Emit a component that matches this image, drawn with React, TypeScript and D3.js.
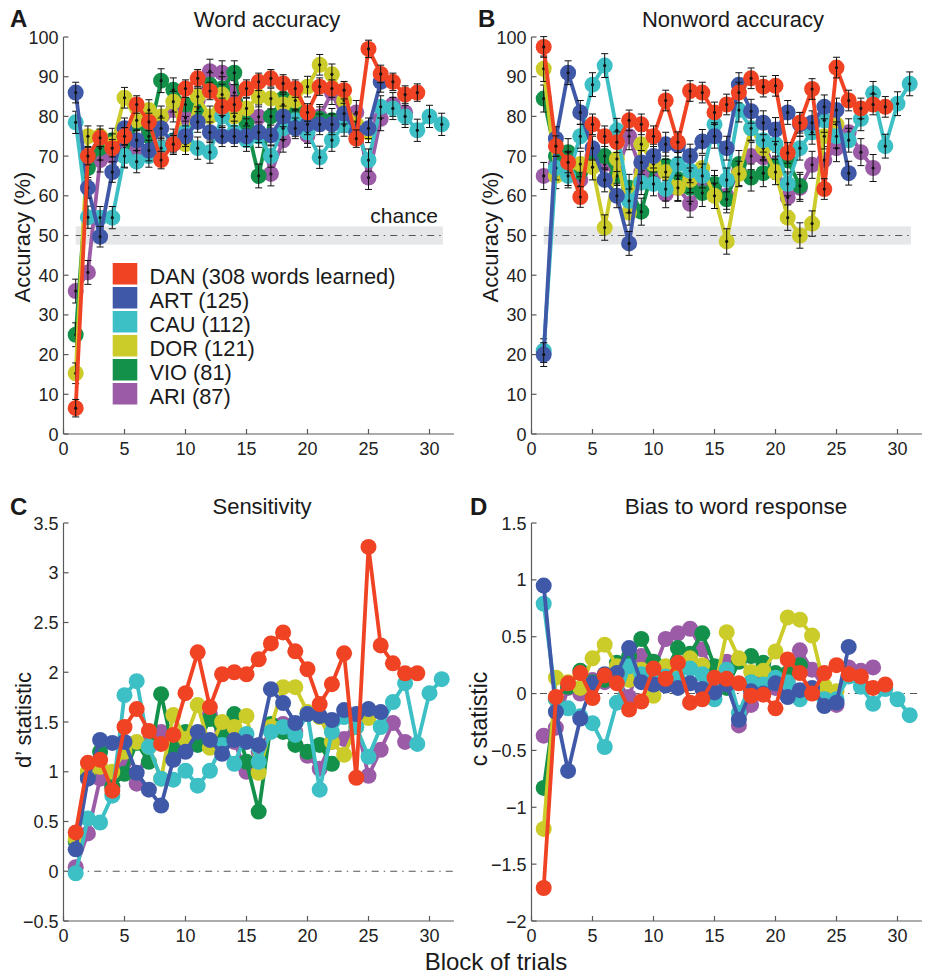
import React from "react";
import * as d3 from "d3";

const FONT = "'Liberation Sans', Arial, Helvetica, sans-serif";

const seriesNames = ["DAN", "ART", "CAU", "DOR", "VIO", "ARI"];
const legendLabels = [
  "DAN (308 words learned)",
  "ART (125)",
  "CAU (112)",
  "DOR (121)",
  "VIO (81)",
  "ARI (87)",
];
const seriesColors = ["#f04323", "#3f59a8", "#3cbfc5", "#cbcb2a", "#13914a", "#9b5ba6"];

// A: word accuracy (%)
const wordDAN = [6.5, 70, 74.6, 72, 75, 83, 78.6, 69, 73, 87, 89.6, 86.4, 82.4, 83, 87, 88.7, 89.6, 88.3, 87, 81, 87.5, 87, 86.6, 74.4, 97, 90.7, 88.7, 85.5, 86];
const wordART = [86, 62, 49.7, 66, 77, 74, 71.4, 77, 73, 75, 78.6, 76, 75, 75, 75, 76, 75.2, 80, 77, 78, 78, 78, 80.7, 76, 77, 88.7];
const wordCAU = [78.5, 54.6, 54.5, 54.5, 70, 68.6, 70, 72, 74, 76, 72, 71, 80, 76, 74, 75, 70, 77, 79, 76, 69.7, 74, 77.8, 76, 69, 82.4, 82, 80, 76.5, 80, 78];
const wordDOR = [15.3, 75, 75, 73, 84.7, 79, 81.6, 80, 83.7, 73, 85, 80, 85.5, 80, 82, 85, 84.5, 83, 84, 87.5, 93, 90.6, 84, 78, 76];
const wordVIO = [25, 67, 72, 74, 70, 78.3, 75, 89, 86.7, 83, 82, 88, 87, 91, 78.2, 65, 80, 84.5, 82, 78, 79.4, 79];
const wordARI = [36, 40.7, 69, 70, 72, 71.4, 76, 77, 81.6, 79.6, 84, 91.4, 91, 86, 80, 79.9, 65.5, 74, 78, 75.2, 80, 86, 79, 81, 64.6, 79.4, 83, 81];
const wordErr = [2.2, 2.6, 2.8, 2.6, 3.0, 3.0];

// B: nonword accuracy (%)
const nonDAN = [97.5, 72.5, 68.4, 59.7, 78, 75, 73.5, 79, 78, 75, 84, 73.5, 86.4, 86, 81, 83, 86, 89.6, 87.5, 87.7, 70.8, 78.4, 86.9, 61.7, 92.3, 84, 82, 83, 82.4];
const nonART = [20, 74.4, 91, 81, 72, 64, 60, 48, 68.4, 70, 73, 72.7, 70, 73.7, 75, 72, 88, 81.3, 78.4, 76.7, 81, 78, 78.4, 82.4, 81.6, 65.7];
const nonCAU = [21, 67, 65, 75, 88, 92.8, 76.5, 58.7, 63.3, 63, 61.7, 68, 66.3, 65, 78, 64, 81.6, 77, 74, 73, 63, 72, 76, 79, 75, 74, 79.4, 85.8, 72.5, 83.2, 88.2];
const nonDOR = [92, 65, 68, 68, 67.2, 52, 69.3, 55.8, 73, 68, 66, 62, 64, 67, 60, 48.5, 65.5, 77, 72, 66, 54.5, 50, 53, 75, 78];
const nonVIO = [84.5, 70, 71, 66, 69, 70, 65, 62, 56, 67.6, 67.6, 64.2, 62, 60.7, 63, 59.1, 68, 64.6, 65.7, 67.6, 68.9, 62.5];
const nonARI = [65, 68, 66, 64, 70, 68, 66, 75, 66, 65, 60.4, 62, 58, 63, 61.7, 60, 66, 70, 69.7, 68, 59.6, 62, 67.8, 69, 72, 76, 71, 67];
const nonErr = [2.6, 3.0, 3.0, 3.2, 3.4, 3.4];

// C: sensitivity d'
const dDAN = [0.39, 1.09, 1.12, 0.81, 1.45, 1.63, 1.41, 1.28, 1.37, 1.79, 2.2, 1.65, 1.98, 2.0, 1.98, 2.13, 2.29, 2.4, 2.21, 2.03, 1.68, 1.88, 2.19, 0.94, 3.26, 2.27, 2.09, 1.99, 1.99];
const dART = [0.22, 0.93, 1.32, 1.29, 1.3, 0.99, 0.82, 0.66, 1.12, 1.2, 1.4, 1.32, 1.18, 1.32, 1.3, 1.27, 1.83, 1.69, 1.49, 1.58, 1.56, 1.52, 1.62, 1.58, 1.63, 1.6];
const dCAU = [-0.02, 0.53, 0.49, 0.76, 1.77, 1.91, 1.25, 0.93, 0.92, 1.01, 0.86, 1.01, 1.27, 1.08, 1.38, 1.1, 1.4, 1.45, 1.37, 1.58, 0.82, 1.4, 1.55, 1.45, 1.15, 1.45, 1.7, 1.89, 1.28, 1.79, 1.93];
const dDOR = [0.33, 1.0, 1.05, 1.0, 1.2, 1.3, 1.25, 0.93, 1.57, 1.33, 1.67, 1.24, 1.5, 1.45, 1.56, 0.99, 1.45, 1.85, 1.85, 1.6, 1.55, 1.3, 1.17, 1.45, 1.54];
const dVIO = [0.3, 0.95, 1.2, 0.85, 0.98, 1.29, 1.1, 1.78, 1.22, 1.4, 1.27, 1.53, 1.35, 1.58, 1.1, 0.6, 1.48, 1.4, 1.27, 1.2, 1.27, 1.08];
const dARI = [0.04, 0.38, 0.93, 0.85, 1.1, 0.88, 1.3, 1.4, 1.25, 1.3, 1.35, 1.58, 1.42, 1.3, 1.0, 1.2, 1.42, 1.48, 1.4, 1.16, 1.03, 1.3, 1.33, 1.5, 0.96, 1.22, 1.49, 1.3];

// D: bias c
const cDAN = [-1.71, -0.03, 0.09, 0.18, -0.04, 0.16, 0.09, -0.14, -0.07, 0.22, 0.13, 0.27, -0.08, -0.05, 0.14, 0.13, 0.09, -0.02, -0.01, -0.13, 0.3, 0.18, 0.0, 0.18, 0.25, 0.17, 0.15, 0.05, 0.08];
const cART = [0.95, -0.16, -0.68, -0.22, 0.09, 0.17, 0.18, 0.4, 0.1, 0.08, 0.07, 0.05, 0.09, 0.04, 0.01, 0.08, -0.23, 0.02, 0.0, 0.09, -0.03, 0.03, 0.05, -0.11, -0.08, 0.41];
const cCAU = [0.79, -0.05, -0.13, -0.2, -0.26, -0.47, -0.08, 0.24, 0.17, 0.15, 0.15, 0.13, 0.22, 0.17, -0.05, 0.21, -0.17, 0.1, 0.08, 0.14, 0.1, -0.05, 0.02, -0.05, -0.05, 0.15, 0.06, -0.09, 0.04, -0.05, -0.19];
const cDOR = [-1.19, 0.14, 0.1, 0.05, 0.31, 0.43, 0.24, 0.12, 0.21, -0.02, 0.24, 0.24, 0.31, 0.25, 0.03, 0.54, 0.31, 0.19, 0.2, 0.37, 0.67, 0.65, 0.51, 0.07, 0.02];
const cVIO = [-0.83, -0.05, 0.06, 0.2, 0.1, 0.12, 0.27, 0.33, 0.48, 0.28, 0.2, 0.4, 0.35, 0.53, 0.24, 0.05, 0.28, 0.33, 0.27, 0.18, 0.18, 0.25];
const cARI = [-0.37, -0.3, 0.05, 0.0, 0.12, 0.1, 0.12, -0.03, 0.33, 0.2, 0.48, 0.53, 0.57, 0.39, 0.15, 0.28, -0.28, -0.1, 0.1, 0.05, 0.1, 0.38, 0.21, 0.05, -0.1, 0.23, 0.2, 0.23];

const xTicks = [0, 5, 10, 15, 20, 25, 30];
const accTicks = [0, 10, 20, 30, 40, 50, 60, 70, 80, 90, 100];
const dTicks = [-0.5, 0, 0.5, 1, 1.5, 2, 2.5, 3, 3.5];
const cTicks = [-2, -1.5, -1, -0.5, 0, 0.5, 1, 1.5];

const fmt = (v: number) => (v < 0 ? "\u2212" + String(-v) : String(v));

type PanelProps = {
  left: number;
  right: number;
  top: number;
  bottom: number;
  yDomain: [number, number];
  yTicks: number[];
  data: number[][];
  err?: number[];
  band?: { x: [number, number]; y: [number, number] };
  refLine?: { x: [number, number]; y: number };
};

function Panel(p: PanelProps) {
  const x = d3.scaleLinear().domain([0, 32]).range([p.left, p.right]);
  const y = d3.scaleLinear().domain(p.yDomain).range([p.bottom, p.top]);
  const line = d3
    .line<number>()
    .x((_, i) => x(i + 1))
    .y((v) => y(v));
  const order = [5, 4, 3, 2, 1, 0];
  const axisColor = "#5a5a5a";
  return (
    <g>
      {p.band && (
        <rect
          x={x(p.band.x[0])}
          width={x(p.band.x[1]) - x(p.band.x[0])}
          y={y(p.band.y[1])}
          height={y(p.band.y[0]) - y(p.band.y[1])}
          fill="#e6e7e9"
        />
      )}
      {p.refLine && (
        <line
          x1={x(p.refLine.x[0])}
          x2={x(p.refLine.x[1])}
          y1={y(p.refLine.y)}
          y2={y(p.refLine.y)}
          stroke="#555"
          strokeWidth={1.1}
          strokeDasharray="7 5 1.5 5"
        />
      )}
      {/* axes */}
      <line x1={p.left} x2={p.left} y1={p.top} y2={p.bottom} stroke={axisColor} strokeWidth={1.2} />
      <line x1={p.left} x2={p.right} y1={p.bottom} y2={p.bottom} stroke={axisColor} strokeWidth={1.2} />
      {p.yTicks.map((t) => (
        <g key={"y" + t}>
          <line x1={p.left} x2={p.left + 5} y1={y(t)} y2={y(t)} stroke={axisColor} strokeWidth={1.2} />
          <text
            x={p.left - 5}
            y={y(t) + 6.5}
            textAnchor="end"
            fontSize={18}
            fontFamily={FONT}
            fill="#222"
          >
            {fmt(t)}
          </text>
        </g>
      ))}
      {xTicks.map((t) => (
        <g key={"x" + t}>
          <line x1={x(t)} x2={x(t)} y1={p.bottom} y2={p.bottom - 5} stroke={axisColor} strokeWidth={1.2} />
          <text
            x={x(t)}
            y={p.bottom + 21}
            textAnchor="middle"
            fontSize={18}
            fontFamily={FONT}
            fill="#222"
          >
            {t}
          </text>
        </g>
      ))}
      {/* series, last legend entry drawn first */}
      {order.map((si) => {
        const vals = p.data[si];
        const col = seriesColors[si];
        return (
          <g key={seriesNames[si]}>
            <path d={line(vals) || ""} fill="none" stroke={col} strokeWidth={3.8} strokeLinejoin="round" />
            {vals.map((v, i) => (
              <circle key={i} cx={x(i + 1)} cy={y(v)} r={8} fill={col} />
            ))}
            {p.err &&
              vals.map((v, i) => {
                const e = p.err![si];
                const cx = x(i + 1);
                const ya = y(v + e);
                const yb = y(v - e);
                return (
                  <g key={"e" + i} stroke="#111" strokeWidth={1}>
                    <line x1={cx} x2={cx} y1={ya} y2={yb} />
                    <line x1={cx - 3.5} x2={cx + 3.5} y1={ya} y2={ya} />
                    <line x1={cx - 3.5} x2={cx + 3.5} y1={yb} y2={yb} />
                    <circle cx={cx} cy={y(v)} r={1.6} fill="#111" stroke="none" />
                  </g>
                );
              })}
          </g>
        );
      })}
    </g>
  );
}

const label = (txt: string, x: number, y: number, size: number, opts: any = {}) => (
  <text x={x} y={y} fontSize={size} fontFamily={FONT} fill="#1a1a1a" {...opts}>
    {txt}
  </text>
);

export default function App() {
  const wordData = [wordDAN, wordART, wordCAU, wordDOR, wordVIO, wordARI];
  const nonData = [nonDAN, nonART, nonCAU, nonDOR, nonVIO, nonARI];
  const dData = [dDAN, dART, dCAU, dDOR, dVIO, dARI];
  const cData = [cDAN, cART, cCAU, cDOR, cVIO, cARI];
  const leftX = 63.5;
  const rightX = 531.5;
  const span = 390.4;

  return (
    <svg
      width={930}
      height={974}
      style={{ position: "absolute", left: 0, top: 0, background: "#fff" }}
    >
      <Panel
        left={leftX}
        right={leftX + span}
        top={37}
        bottom={434}
        yDomain={[0, 100]}
        yTicks={accTicks}
        data={wordData}
        err={wordErr}
        band={{ x: [1, 31.1], y: [47.7, 52.3] }}
        refLine={{ x: [1, 31.1], y: 50 }}
      />
      <Panel
        left={rightX}
        right={rightX + span}
        top={37}
        bottom={434}
        yDomain={[0, 100]}
        yTicks={accTicks}
        data={nonData}
        err={nonErr}
        band={{ x: [1, 31.1], y: [47.7, 52.3] }}
        refLine={{ x: [1, 31.1], y: 50 }}
      />
      <Panel
        left={leftX}
        right={leftX + span}
        top={523}
        bottom={921}
        yDomain={[-0.5, 3.5]}
        yTicks={dTicks}
        data={dData}
        refLine={{ x: [1, 32], y: 0 }}
      />
      <Panel
        left={rightX}
        right={rightX + span}
        top={523}
        bottom={921}
        yDomain={[-2, 1.5]}
        yTicks={cTicks}
        data={cData}
        refLine={{ x: [0.7, 32], y: 0 }}
      />

      {/* chance label */}
      {label("chance", 438, 223, 21, { textAnchor: "end" })}

      {/* legend */}
      {seriesNames.map((n, i) => (
        <g key={"lg" + n}>
          <rect x={112.7} y={263 + i * 24} width={24.6} height={21.5} fill={seriesColors[i]} />
          {label(legendLabels[i], 149.5, 283.5 + i * 24, 21.8)}
        </g>
      ))}

      {/* panel letters */}
      {label("A", 10, 27, 24, { fontWeight: "bold" })}
      {label("B", 478, 27, 24, { fontWeight: "bold" })}
      {label("C", 10, 515, 24, { fontWeight: "bold" })}
      {label("D", 470, 515, 24, { fontWeight: "bold" })}

      {/* titles */}
      {label("Word accuracy", 267, 27, 22, { textAnchor: "middle" })}
      {label("Nonword accuracy", 733, 27, 22, { textAnchor: "middle" })}
      {label("Sensitivity", 262, 514, 22, { textAnchor: "middle" })}
      {label("Bias to word response", 736, 514, 22.5, { textAnchor: "middle" })}

      {/* y labels */}
      <g transform="translate(30,237) rotate(-90)">{label("Accuracy (%)", 0, 0, 22, { textAnchor: "middle" })}</g>
      <g transform="translate(498,237) rotate(-90)">{label("Accuracy (%)", 0, 0, 22, { textAnchor: "middle" })}</g>
      <g transform="translate(31,720) rotate(-90)">{label("d\u2019 statistic", 0, 0, 22, { textAnchor: "middle" })}</g>
      <g transform="translate(487,719) rotate(-90)">{label("c statistic", 0, 0, 23, { textAnchor: "middle" })}</g>

      {/* x label */}
      {label("Block of trials", 496, 970, 24, { textAnchor: "middle" })}
    </svg>
  );
}
